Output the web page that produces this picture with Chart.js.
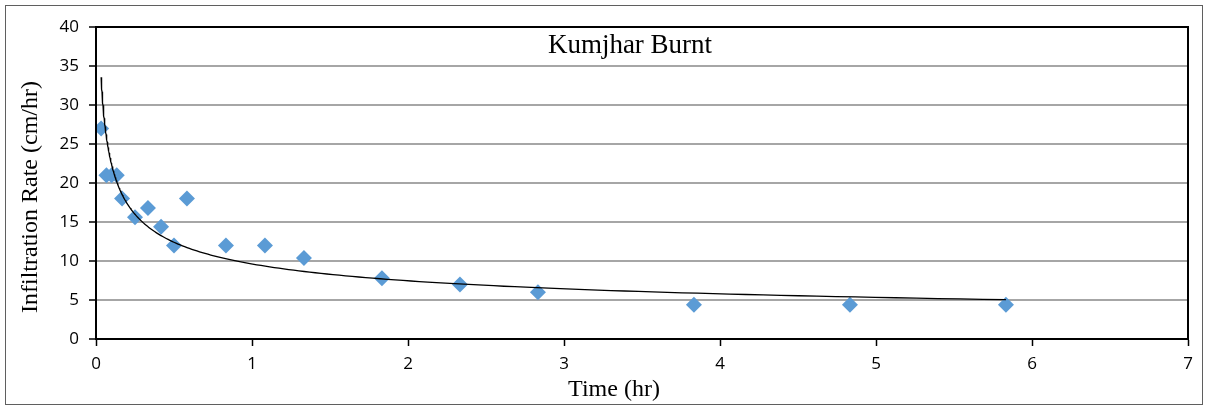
<!DOCTYPE html>
<html>
<head>
<meta charset="utf-8">
<script src="https://cdn.jsdelivr.net/npm/chart.js@4"></script>
<style>
  html, body { margin: 0; padding: 0; background: #fff; }
  #wrap { width: 1208px; height: 407px; }
</style>
</head>
<body>
<div id="wrap"><canvas id="infChart" width="1208" height="407"></canvas></div>
<script>
// observed time (hr) and infiltration rate (cm/hr)
const timeHr = [0.033, 0.067, 0.1, 0.133, 0.167, 0.25, 0.333, 0.417, 0.5, 0.583,
                0.833, 1.083, 1.333, 1.833, 2.333, 2.833, 3.833, 4.833, 5.833];
const rateCm = [27, 21, 21, 21, 18, 15.6, 16.8, 14.4, 12, 18,
                12, 12, 10.4, 7.8, 7, 6, 4.4, 4.4, 4.4];
const xTicks = [0, 1, 2, 3, 4, 5, 6, 7];
const yTicks = [0, 5, 10, 15, 20, 25, 30, 35, 40];
const chartTitle = 'Kumjhar Burnt';
const xTitle = 'Time (hr)';
const yTitle = 'Infiltration Rate (cm/hr)';

// power trendline like Excel: regression of ln(y) on ln(x)
function powerFit(xs, ys) {
  const n = xs.length;
  let sx = 0, sy = 0, sxx = 0, sxy = 0;
  for (let i = 0; i < n; i++) {
    const lx = Math.log(xs[i]), ly = Math.log(ys[i]);
    sx += lx; sy += ly; sxx += lx * lx; sxy += lx * ly;
  }
  const b = (n * sxy - sx * sy) / (n * sxx - sx * sx);
  const a = Math.exp((sy - b * sx) / n);
  return { a, b };
}
const fit = powerFit(timeHr, rateCm);
const trend = [];
const x0 = timeHr[0], x1 = timeHr[timeHr.length - 1];
for (let i = 0; i <= 200; i++) {
  const x = x0 * Math.pow(x1 / x0, i / 200);
  trend.push({ x: x, y: fit.a * Math.pow(x, fit.b) });
}

const serif = "'Liberation Serif', 'Times New Roman', serif";
const sans = "'Open Sans', 'Liberation Sans', sans-serif";

const framePlugin = {
  id: 'frame',
  beforeDraw(chart) {
    const ctx = chart.ctx;
    ctx.save();
    ctx.fillStyle = '#fff';
    ctx.fillRect(0, 0, chart.width, chart.height);
    ctx.strokeStyle = '#5f5f5f';
    ctx.lineWidth = 1;
    ctx.strokeRect(5.5, 5.5, chart.width - 11, chart.height - 8);
    ctx.restore();
  },
  afterDatasetsDraw(chart) {
    const a = chart.chartArea, ctx = chart.ctx;
    ctx.save();
    ctx.strokeStyle = '#000';
    ctx.lineWidth = 2;
    ctx.strokeRect(a.left, a.top, a.right - a.left, a.bottom - a.top);
    ctx.fillStyle = '#000';
    ctx.textAlign = 'center';
    ctx.textBaseline = 'middle';
    // chart title sits inside the plot area
    ctx.font = '27px ' + serif;
    ctx.fillText(chartTitle, 630, a.top + 19);
    // axis titles
    ctx.font = '24px ' + serif;
    ctx.fillText(xTitle, 614, 390);
    ctx.translate(31, 197);
    ctx.rotate(-Math.PI / 2);
    ctx.fillText(yTitle, 0, 0);
    ctx.restore();
  }
};

new Chart(document.getElementById('infChart').getContext('2d'), {
  type: 'scatter',
  data: {
    datasets: [
      {
        label: 'Observed',
        data: timeHr.map((t, i) => ({ x: t, y: rateCm[i] })),
        pointStyle: 'rectRot',
        pointRadius: 8,
        pointHoverRadius: 8,
        backgroundColor: '#5b9bd5',
        borderColor: '#5b9bd5',
        borderWidth: 0,
        order: 2,
      },
      {
        label: 'Power trend',
        data: trend,
        showLine: true,
        pointRadius: 0,
        borderColor: '#000',
        borderWidth: 1.3,
        fill: false,
        order: 1,
      },
    ],
  },
  options: {
    responsive: false,
    animation: false,
    layout: { padding: { top: 27, right: 20, left: 0, bottom: 0 } },
    plugins: {
      legend: { display: false },
      tooltip: { enabled: false },
    },
    scales: {
      x: {
        type: 'linear',
        min: 0,
        max: 7,
        afterBuildTicks: (axis) => { axis.ticks = xTicks.map(v => ({ value: v })); },
        afterFit: (axis) => { axis.height = 68; },
        grid: {
          drawOnChartArea: false,
          drawTicks: true,
          tickLength: 7,
          tickColor: '#000',
          tickWidth: 1.5,
        },
        border: { color: '#000', width: 2 },
        ticks: {
          color: '#000',
          font: { family: sans, size: 17 },
          padding: 8,
          maxRotation: 0,
        },
      },
      y: {
        min: 0,
        max: 40,
        afterBuildTicks: (axis) => { axis.ticks = yTicks.map(v => ({ value: v })); },
        afterFit: (axis) => { axis.width = 96; },
        grid: {
          color: '#a6a6a6',
          lineWidth: 2,
          drawTicks: true,
          tickLength: 7,
          tickColor: '#000',
          tickWidth: 1.5,
        },
        border: { color: '#000', width: 2 },
        ticks: {
          color: '#000',
          font: { family: sans, size: 17 },
          padding: 10,
        },
      },
    },
  },
  plugins: [framePlugin],
});
</script>
</body>
</html>
